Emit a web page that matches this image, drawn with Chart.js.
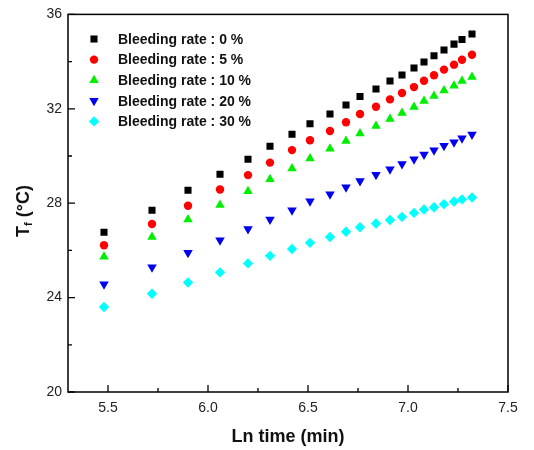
<!DOCTYPE html>
<html>
<head>
<meta charset="utf-8">
<script src="https://cdn.jsdelivr.net/npm/chart.js@4"></script>
<style>
  body { margin: 0; background: #fff; }
  #wrap { width: 534px; height: 450px; }
</style>
</head>
<body>
<div id="wrap"><canvas id="tfChart"></canvas></div>
<script>
// ---- data ----
const lnTime = [5.48, 5.72, 5.90, 6.06, 6.20, 6.31, 6.42, 6.51, 6.61, 6.69, 6.76,
                6.84, 6.91, 6.97, 7.03, 7.08, 7.13, 7.18, 7.23, 7.27, 7.32];
const rate0  = [26.77, 27.70, 28.55, 29.23, 29.86, 30.41, 30.92, 31.37, 31.78, 32.16, 32.52,
                32.84, 33.18, 33.43, 33.73, 33.98, 34.25, 34.49, 34.74, 34.94, 35.17];
const rate5  = [26.22, 27.12, 27.89, 28.58, 29.19, 29.72, 30.25, 30.67, 31.06, 31.43, 31.78,
                32.09, 32.40, 32.67, 32.92, 33.19, 33.42, 33.66, 33.87, 34.08, 34.29];
const rate10 = [25.73, 26.57, 27.31, 27.92, 28.51, 29.02, 29.47, 29.89, 30.31, 30.64, 30.95,
                31.27, 31.57, 31.82, 32.08, 32.33, 32.54, 32.78, 32.98, 33.18, 33.35];
const rate20 = [24.57, 25.29, 25.90, 26.43, 26.91, 27.31, 27.70, 28.08, 28.38, 28.68, 28.94,
                29.21, 29.44, 29.66, 29.86, 30.06, 30.24, 30.43, 30.58, 30.75, 30.91];
const rate30 = [23.60, 24.16, 24.64, 25.07, 25.45, 25.77, 26.06, 26.32, 26.57, 26.79, 26.98,
                27.14, 27.29, 27.42, 27.59, 27.73, 27.83, 27.96, 28.07, 28.16, 28.24];

const seriesLabels = ['Bleeding rate : 0 %', 'Bleeding rate : 5 %', 'Bleeding rate : 10 %',
                      'Bleeding rate : 20 %', 'Bleeding rate : 30 %'];
const xTicks = [5.5, 6.0, 6.5, 7.0, 7.5];
const xMinor = [5.75, 6.25, 6.75, 7.25];
const yTicks = [20, 24, 28, 32, 36];
const yMinor = [22, 26, 30, 34];

const FONT = '"Liberation Sans", Arial, sans-serif';

function pts(ys) {
  return ys.map((y, i) => ({ x: lnTime[i], y: y }));
}

const styles = [
  { color: '#000000', shape: 'rect', r: 5, rot: 0 },
  { color: '#ff0000', shape: 'circle', r: 4.2, rot: 0 },
  { color: '#00ee00', shape: 'triangle', r: 5.5, rot: 0 },
  { color: '#0000ee', shape: 'triangle', r: 5.5, rot: 180 },
  { color: '#00ffff', shape: 'rectRot', r: 5.2, rot: 0 }
];
const allSeries = [rate0, rate5, rate10, rate20, rate30];

// ---- inward ticks, box, legend and y title ----
const framePlugin = {
  id: 'frame',
  afterDraw(chart) {
    const ctx = chart.ctx;
    const a = chart.chartArea;
    const xs = chart.scales.x, ys = chart.scales.y;
    ctx.save();
    ctx.strokeStyle = '#000';
    ctx.lineWidth = 1.5;
    ctx.strokeRect(a.left, a.top, a.right - a.left, a.bottom - a.top);

    ctx.lineWidth = 1.3;
    ctx.beginPath();
    xTicks.forEach(v => { const p = xs.getPixelForValue(v); ctx.moveTo(p, a.bottom); ctx.lineTo(p, a.bottom - 7); });
    xMinor.forEach(v => { const p = xs.getPixelForValue(v); ctx.moveTo(p, a.bottom); ctx.lineTo(p, a.bottom - 4); });
    yTicks.forEach(v => { const p = ys.getPixelForValue(v); ctx.moveTo(a.left, p); ctx.lineTo(a.left + 7, p); });
    yMinor.forEach(v => { const p = ys.getPixelForValue(v); ctx.moveTo(a.left, p); ctx.lineTo(a.left + 4, p); });
    ctx.stroke();

    // legend
    ctx.font = 'bold 14px ' + FONT;
    ctx.textBaseline = 'middle';
    ctx.textAlign = 'left';
    chart.data.datasets.forEach((ds, i) => {
      const y = 39 + i * 20.6;
      ctx.fillStyle = ds.backgroundColor;
      ctx.strokeStyle = ds.backgroundColor;
      Chart.helpers.drawPoint(ctx, {
        pointStyle: ds.pointStyle, radius: ds.pointRadius, rotation: ds.pointRotation, borderWidth: 0
      }, 94, y);
      ctx.fillStyle = '#111';
      ctx.fillText(ds.label, 118, y + 1);
    });

    // y title with subscript
    ctx.translate(24, 211);
    ctx.rotate(-Math.PI / 2);
    ctx.fillStyle = '#111';
    ctx.textBaseline = 'middle';
    const big = 'bold 18px ' + FONT, small = 'bold 11px ' + FONT;
    ctx.font = big; const wT = ctx.measureText('T').width;
    const wRest = ctx.measureText(' (°C)').width;
    ctx.font = small; const wF = ctx.measureText('f').width;
    let x0 = -(wT + wF + wRest) / 2;
    ctx.font = big; ctx.fillText('T', x0, 0);
    ctx.font = small; ctx.fillText('f', x0 + wT, 5);
    ctx.font = big; ctx.fillText(' (°C)', x0 + wT + wF, 0);
    ctx.restore();
  }
};

const chart = new Chart(document.getElementById('tfChart'), {
  type: 'scatter',
  data: {
    datasets: allSeries.map((s, i) => ({
      label: seriesLabels[i],
      data: pts(s),
      backgroundColor: styles[i].color,
      borderColor: styles[i].color,
      borderWidth: 0,
      pointStyle: styles[i].shape,
      pointRadius: styles[i].r,
      pointHoverRadius: styles[i].r,
      pointRotation: styles[i].rot
    }))
  },
  options: {
    responsive: true,
    maintainAspectRatio: false,
    animation: false,
    layout: { padding: { top: 14, right: 26, left: 0, bottom: 0 } },
    plugins: { legend: { display: false }, tooltip: { enabled: false } },
    scales: {
      x: {
        type: 'linear', min: 5.3, max: 7.5,
        grid: { display: false, drawTicks: false },
        border: { display: false },
        afterBuildTicks: s => { s.ticks = xTicks.map(v => ({ value: v })); },
        afterFit: s => { s.height = 58; },
        ticks: {
          padding: 8, color: '#222', font: { family: FONT, size: 14 },
          callback: v => v.toFixed(1)
        },
        title: {
          display: true, text: 'Ln time (min)', color: '#111',
          font: { family: FONT, size: 18, weight: 'bold' },
          padding: { top: 0, bottom: 2 }
        }
      },
      y: {
        type: 'linear', min: 20, max: 36,
        grid: { display: false, drawTicks: false },
        border: { display: false },
        afterBuildTicks: s => { s.ticks = yTicks.map(v => ({ value: v })); },
        afterFit: s => { s.width = 68; },
        ticks: { padding: 6, color: '#222', font: { family: FONT, size: 14 } }
      }
    }
  },
  plugins: [framePlugin]
});
</script>
</body>
</html>
